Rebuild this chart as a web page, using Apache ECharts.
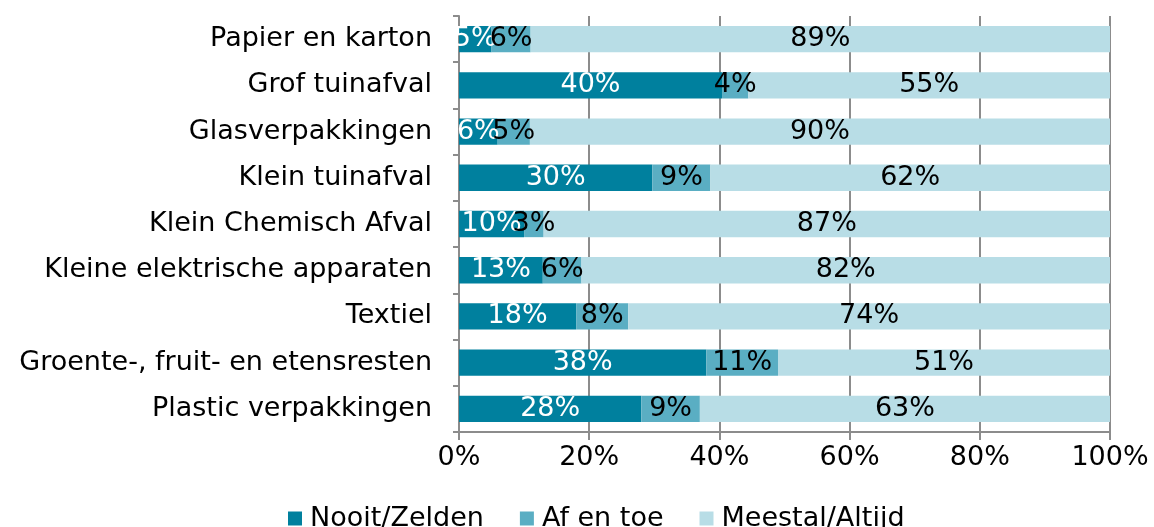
<!DOCTYPE html>
<html>
<head>
<meta charset="utf-8">
<script src="https://cdn.jsdelivr.net/npm/echarts@6/dist/echarts.min.js"></script>
<style>
  html, body { margin: 0; padding: 0; background: #fff; }
  #chart { width: 1154px; height: 527px; }
</style>
</head>
<body>
<div id="chart"></div>
<script>
var categories = ['Papier en karton', 'Grof tuinafval', 'Glasverpakkingen', 'Klein tuinafval',
    'Klein Chemisch Afval', 'Kleine elektrische apparaten', 'Textiel',
    'Groente-, fruit- en etensresten', 'Plastic verpakkingen'];
var nooit = [5, 40, 6, 30, 10, 13, 18, 38, 28];
var afEnToe = [6, 4, 5, 9, 3, 6, 8, 11, 9];
var meestal = [89, 55, 90, 62, 87, 82, 74, 51, 63];
var xTicks = [0, 20, 40, 60, 80, 100];

var font = 'DejaVu Sans';
var fs = 27;
var chart = echarts.init(document.getElementById('chart'));

// rounded percentages don't always sum to 100, scale each row to fill the bar
var totals = categories.map(function (c, i) {
    return nooit[i] + afEnToe[i] + meestal[i];
});

function serie(name, data, color, labelColor) {
    return {
        name: name,
        type: 'bar',
        stack: 'total',
        data: data.map(function (v, i) {
            return { value: v / totals[i] * 100, label: { formatter: v + '%' } };
        }),
        barCategoryGap: '43%',
        itemStyle: { color: color },
        label: {
            show: true,
            position: 'inside',
            color: labelColor,
            fontFamily: font,
            fontSize: fs
        }
    };
}

option = {
    animation: false,
    textStyle: { fontFamily: font },
    grid: { left: 459, right: 44, top: 16, bottom: 95 },
    xAxis: {
        type: 'value',
        min: xTicks[0],
        max: xTicks[xTicks.length - 1],
        interval: 20,
        axisLabel: { formatter: '{value}%', fontSize: fs, color: '#000', margin: 12 },
        axisLine: { show: true, lineStyle: { color: '#8c8c8c', width: 2 } },
        axisTick: { show: true, length: 8, lineStyle: { color: '#8c8c8c', width: 2 } },
        splitLine: { show: true, lineStyle: { color: '#8c8c8c', width: 2 } }
    },
    yAxis: {
        type: 'category',
        data: categories,
        inverse: true,
        axisLabel: { fontSize: fs, color: '#000', margin: 27 },
        axisLine: { show: true, lineStyle: { color: '#8c8c8c', width: 2 } },
        axisTick: { show: true, length: 6, lineStyle: { color: '#8c8c8c', width: 2 } }
    },
    legend: {
        bottom: -10,
        left: 283,
        itemWidth: 14,
        itemHeight: 14,
        itemGap: 36,
        icon: 'rect',
        textStyle: { fontSize: fs, color: '#000', fontFamily: font, padding: [0, 0, 0, 3] },
        data: ['Nooit/Zelden', 'Af en toe', 'Meestal/Altijd']
    },
    series: [
        serie('Nooit/Zelden', nooit, '#00809e', '#fff'),
        serie('Af en toe', afEnToe, '#5aaec3', '#000'),
        serie('Meestal/Altijd', meestal, '#b8dde6', '#000')
    ]
};
chart.setOption(option);
</script>
</body>
</html>
